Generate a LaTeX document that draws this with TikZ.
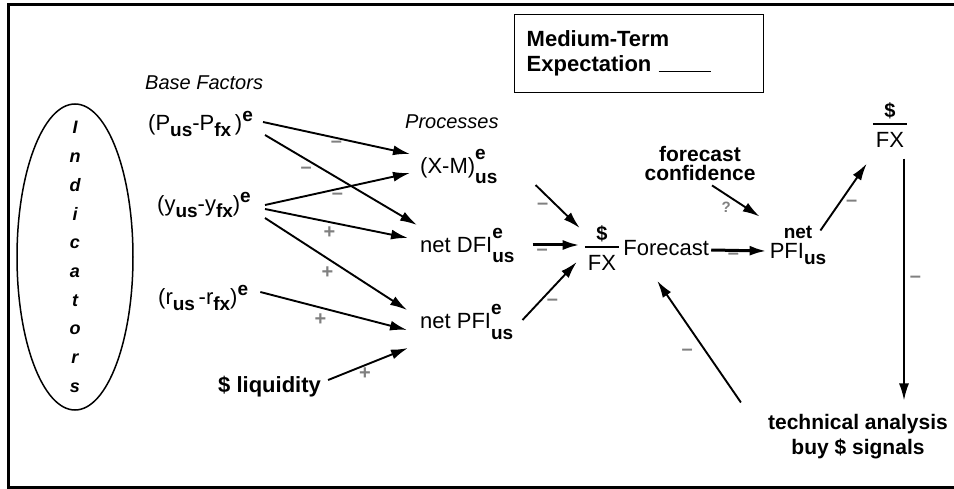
\documentclass[tikz,border=0pt]{standalone}
\usepackage{fontspec}
\setmainfont{Liberation Sans}
\usetikzlibrary{arrows.meta,positioning,shapes.geometric}

% sub- and superscripts as the scan sets them
\newcommand{\lo}[1]{\raisebox{-6pt}{\fontsize{19}{19}\selectfont\bfseries #1}}
\newcommand{\hi}[1]{\raisebox{9pt}{\fontsize{19}{19}\selectfont\bfseries #1}}
\newcommand{\hilo}[2]{\rlap{\raisebox{14pt}{\fontsize{19}{19}\selectfont\bfseries #1}}\raisebox{-10pt}{\fontsize{19}{19}\selectfont\bfseries #2}}
\newcommand{\perfx}{{\setlength{\arrayrulewidth}{2pt}\renewcommand{\arraystretch}{0}%
  \begin{tabular}{@{\hspace{3pt}}c@{\hspace{3pt}}}
    \rule[-6pt]{0pt}{18pt}{\fontsize{20}{20}\selectfont\bfseries\$}\\\hline
    \rule{0pt}{22pt}FX
  \end{tabular}}}

\tikzset{
  lbl/.style={font=\fontsize{22}{26}\selectfont, inner sep=2pt},
  blbl/.style={lbl, font=\fontsize{21}{19}\selectfont\bfseries, align=center},
  head/.style={lbl, font=\fontsize{20}{24}\selectfont\itshape},
  sgn/.style={font=\fontsize{20}{20}\selectfont\bfseries, text=black!50, inner sep=1pt},
  arr/.style={line width=1.9pt, -{Latex[length=17pt,width=10pt]}},
  fatarr/.style={arr, line width=3pt},
}

\begin{document}
\begin{tikzpicture}[x=1pt,y=-1pt]
  \useasboundingbox (0,0) rectangle (954,489);
  \draw[line width=3pt] (954,5) -- (8,5) -- (8,487) -- (954,487);

  % indicators
  \node[draw, ellipse, line width=1.5pt, minimum width=116pt, minimum height=306pt] (ind) at (75,257) {};
  \node[font=\fontsize{18}{28.7}\selectfont\bfseries\itshape, align=center, inner sep=0pt] (indtxt) at (ind.center)
      {I\\n\\d\\i\\c\\a\\t\\o\\r\\s};

  % base factors
  \node[head, anchor=base west] (basef) at (143,90) {Base Factors};
  \node[lbl, anchor=base west] (P) at (146,131) {(P\lo{us}-P\lo{fx}\,)\hi{e}};
  \node[lbl, anchor=base west] (Y) at (155,212) {(y\lo{us}-y\lo{fx})\hi{e}};
  \node[lbl, anchor=base west] (R) at (156,305) {(r\lo{us}\,-r\lo{fx})\hi{e}};
  \node[lbl, anchor=base west, font=\fontsize{22}{26}\selectfont\bfseries] (liq) at (216,392) {\$ liquidity};

  % processes
  \node[head, anchor=base west] (proc) at (403,129) {Processes};
  \node[lbl, anchor=base west] (xm) at (418,174) {(X-M)\hilo{e}{us}};
  \node[lbl, anchor=base west] (dfi) at (418,253) {net DFI\hilo{e}{us}};
  \node[lbl, anchor=base west] (pfi) at (418,329) {net PFI\hilo{e}{us}};

  % forecast and feedback
  \node[lbl] (fx) at (602,248) {\perfx};
  \node[lbl, right=0pt of fx] (fcst) {Forecast};
  \node[blbl] (conf) at (700,163) {forecast\\confidence};
  \node[lbl, align=center, font=\fontsize{22}{20}\selectfont] (npfi) at (798,245)
      {{\fontsize{19}{19}\selectfont\bfseries net}\\PFI\lo{us}};
  \node[lbl] (fxtop) at (890,125) {\perfx};
  \node[blbl, font=\fontsize{21}{25}\selectfont\bfseries] (tech) at (858,437)
      {technical analysis\\buy \$ signals};

  \node[draw, line width=1.4pt, anchor=north west, minimum width=249pt, minimum height=78pt,
        inner xsep=12pt, text width=225pt, align=left, font=\fontsize{22}{25}\selectfont\bfseries] (mte) at (514,14)
      {Medium-Term\\Expectation \rule{52pt}{1.2pt}};

  % base factors to processes
  \draw[arr] ([xshift=8pt,yshift=9pt]P.base east) -- node[sgn, pos=0.5, below=1pt] {--} ([xshift=-8pt,yshift=20pt]xm.base west);
  \draw[arr] ([xshift=10pt,yshift=-4pt]P.base east) -- node[sgn, pos=0.27, below=6pt] {--} ([xshift=-1pt,yshift=28pt]dfi.base west);
  \draw[arr] ([xshift=12pt,yshift=7pt]Y.base east) -- node[sgn, pos=0.5, below=2pt] {--} ([xshift=-8pt,yshift=1pt]xm.base west);
  \draw[arr] ([xshift=12pt,yshift=3pt]Y.base east) -- node[sgn, pos=0.45, below=3pt] {+} ([xshift=-10pt,yshift=15pt]dfi.base west);
  \draw[arr] ([xshift=12pt,yshift=-6pt]Y.base east) -- node[sgn, pos=0.5, below left=1pt] {+} ([xshift=-11pt,yshift=19pt]pfi.base west);
  \draw[arr] ([xshift=10pt,yshift=13pt]R.base east) -- node[sgn, pos=0.41, below=4pt] {+} ([xshift=-11pt,yshift=-1pt]pfi.base west);
  \draw[arr] ([xshift=5pt,yshift=12pt]liq.base east) -- node[sgn, pos=0.46, below=1pt] {+} ([xshift=-10pt,yshift=-19pt]pfi.base west);

  % processes to forecast
  \draw[arr] ([xshift=36pt,yshift=-11pt]xm.base east) -- node[sgn, pos=0.35, below left=1pt] {--} ([xshift=-3pt,yshift=20pt]fx.west);
  \draw[fatarr] ([xshift=16pt,yshift=8pt]dfi.base east) -- node[sgn, pos=0.2, below=2pt] {--} ([xshift=-3pt,yshift=3pt]fx.west);
  \draw[arr] ([xshift=7pt,yshift=9pt]pfi.base east) -- node[sgn, pos=0.4, below right=1pt] {--} ([xshift=-6pt,yshift=-14pt]fx.west);

  % forecast to private flows and back
  \draw[fatarr] ([yshift=-2pt]fcst.east) -- node[sgn, pos=0.4, below=0pt] {--} ([xshift=-1pt,yshift=-6pt]npfi.west);
  \draw[arr] ([xshift=12pt,yshift=-3pt]conf.south) -- node[sgn, pos=0.45, below left=1pt, font=\fontsize{15}{15}\selectfont\bfseries] {?} ([xshift=-8pt,yshift=7pt]npfi.north west);
  \draw[arr] ([xshift=-8pt,yshift=-7pt]npfi.north east) -- node[sgn, pos=0.5, below right=1pt] {--} ([xshift=-4pt,yshift=-14pt]fxtop.south west);
  \draw[arr] ([xshift=14pt,yshift=-9pt]fxtop.south) -- node[sgn, pos=0.5, right=4pt] {--} ([xshift=46pt,yshift=12pt]tech.north);
  \draw[arr] ([xshift=-25pt,yshift=10pt]tech.north west) -- node[sgn, pos=0.41, left=12pt] {--} ([xshift=-9pt,yshift=-23pt]fcst.south);
\end{tikzpicture}
\end{document}
